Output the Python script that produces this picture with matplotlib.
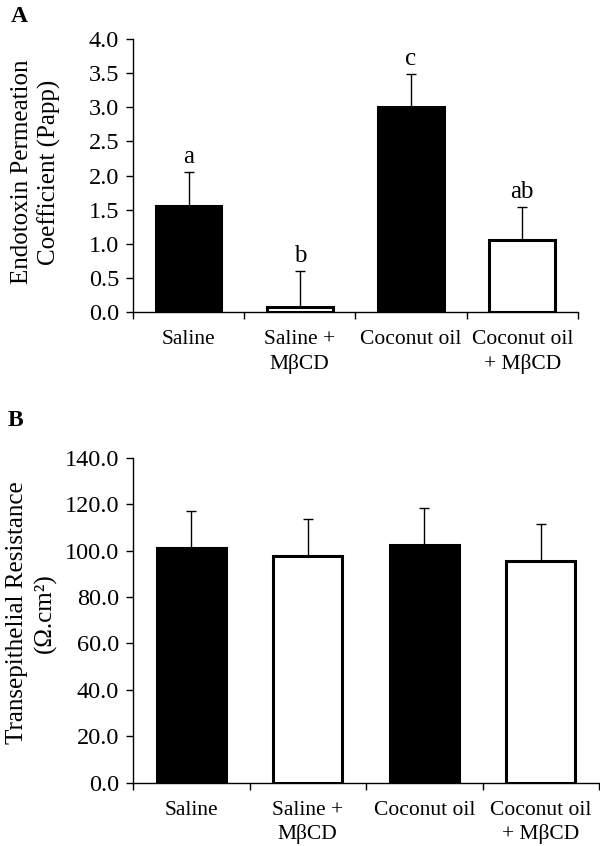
import matplotlib
matplotlib.use("Agg")
import matplotlib.pyplot as plt
import numpy as np

categories = ["Saline", "Saline +\nMβCD", "Coconut oil", "Coconut oil\n+ MβCD"]
fills = ["black", "white", "black", "white"]

papp_mean = [1.55, 0.08, 3.00, 1.05]
papp_err = [0.50, 0.52, 0.49, 0.49]
papp_letters = ["a", "b", "c", "ab"]
papp_ticks = [0.0, 0.5, 1.0, 1.5, 2.0, 2.5, 3.0, 3.5, 4.0]

teer_mean = [101.0, 97.8, 102.4, 95.3]
teer_err = [16.0, 15.8, 15.8, 16.0]
teer_ticks = [0.0, 20.0, 40.0, 60.0, 80.0, 100.0, 120.0, 140.0]

plt.rcParams['font.family'] = ['Liberation Serif', 'DejaVu Serif']

fig = plt.figure(figsize=(6.0, 8.46), dpi=100)
axA = fig.add_axes([0.2217, 0.6312, 0.7413, 0.3227])
axB = fig.add_axes([0.2217, 0.0748, 0.7767, 0.3842])


def draw(ax, means, errs, ticks, ylabel, fmt, lx, ly):
    x = np.arange(len(means))
    ax.bar(x, means, width=0.59, color=fills, edgecolor="black", linewidth=2.2, zorder=2)
    ax.errorbar(x, means, yerr=[np.zeros(len(errs)), errs], fmt="none",
                ecolor="black", elinewidth=1.0, capsize=3.5, capthick=1.0, zorder=1)
    ax.set_xlim(-0.5, len(means) - 0.5)
    ax.set_ylim(ticks[0], ticks[-1])
    ax.set_yticks(ticks)
    ax.set_yticklabels([fmt.format(t) for t in ticks], fontsize=17.5)
    ax.set_xticks(np.arange(len(means) + 1) - 0.5)
    ax.set_xticklabels([])
    ax.set_xticks(x, minor=True)
    ax.set_xticklabels(categories, minor=True, fontsize=15.5, linespacing=1.3, va="top")
    ax.tick_params(axis="x", which="minor", length=0, pad=13)
    ax.tick_params(axis="x", which="major", direction="out", length=5, width=1)
    ax.tick_params(axis="y", direction="out", length=5, width=1, pad=5)
    for s in ["top", "right"]:
        ax.spines[s].set_visible(False)
    for s in ["left", "bottom"]:
        ax.spines[s].set_linewidth(1.0)
    ax.set_ylabel(ylabel, fontsize=18, linespacing=1.3)
    ax.yaxis.set_label_coords(lx, ly)


draw(axA, papp_mean, papp_err, papp_ticks,
     "Endotoxin Permeation\nCoefficient (Papp)", "{:.1f}", -0.161, 0.513)
for i, (m, e, t) in enumerate(zip(papp_mean, papp_err, papp_letters)):
    axA.text(i, m + e + 0.06, t, ha="center", va="bottom", fontsize=18)

draw(axB, teer_mean, teer_err, teer_ticks,
     "Transepithelial Resistance\n(Ω.cm²)", "{:.1f}", -0.164, 0.522)

fig.text(0.018, 0.98, "A", fontsize=17, fontweight="bold", ha="left", va="center")
fig.text(0.012, 0.5024, "B", fontsize=17, fontweight="bold", ha="left", va="center")

fig.savefig("out.png", dpi=100)
